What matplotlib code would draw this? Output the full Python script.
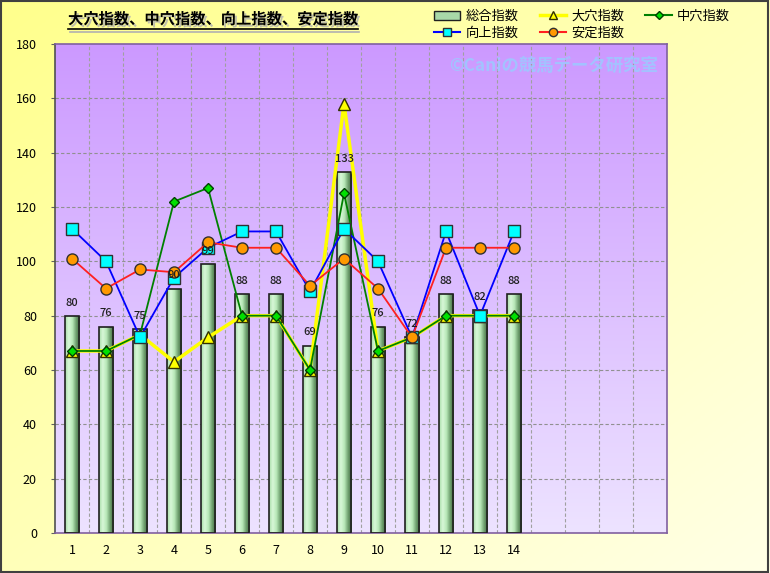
import numpy as np
import matplotlib
matplotlib.use("Agg")
import matplotlib.pyplot as plt
from matplotlib.colors import LinearSegmentedColormap
from matplotlib.lines import Line2D
from matplotlib.patches import Patch
import matplotlib.patheffects as pe

plt.rcParams['font.family'] = ['Noto Sans CJK JP', 'DejaVu Sans']

# ----- data -----
races = list(range(1, 15))
n_slots = 18  # chart has 18 category slots, only 14 filled
sogo = [80, 76, 75, 90, 99, 88, 88, 69, 133, 76, 72, 88, 82, 88]
oana = [67, 67, 73, 63, 72, 80, 80, 60, 158, 67, 72, 80, 80, 80]
chuana = [67, 67, 73, 122, 127, 80, 80, 60, 125, 67, 72, 80, 80, 80]
kojo = [112, 100, 72, 94, 105, 111, 111, 89, 112, 100, 72, 111, 80, 111]
antei = [101, 90, 97, 96, 107, 105, 105, 91, 101, 90, 72, 105, 105, 105]
names = ["総合指数", "大穴指数", "中穴指数", "向上指数", "安定指数"]
title = "大穴指数、中穴指数、向上指数、安定指数"
watermark = "©Caniの競馬データ研究室"

fig = plt.figure(figsize=(7.7, 5.73), dpi=100)

# figure background gradient (yellow -> pale)
bg = fig.add_axes([0, 0, 1, 1], zorder=-10)
yy, xx = np.mgrid[0:1:200j, 0:1:200j]
grad = (xx + (1 - yy)) / 2
bg_cmap = LinearSegmentedColormap.from_list("bgy", ["#FFFF8C", "#FFFFE6"])
bg.imshow(grad, cmap=bg_cmap, extent=[0, 1, 0, 1], aspect="auto", origin="lower")
bg.set_xlim(0, 1)
bg.set_ylim(0, 1)
bg.axis("off")
bg.add_patch(plt.Rectangle((0.001, 0.002), 0.997, 0.996, fill=False,
                           edgecolor="#404040", linewidth=1.5, transform=bg.transAxes))

ax = fig.add_axes([55 / 770, 40 / 573, 612 / 770, 489 / 573])
ax.set_facecolor("none")

# plot area gradient (purple top -> pale lavender bottom)
pa_cmap = LinearSegmentedColormap.from_list("pa", ["#EDE3FF", "#CC99FF"])
ax.imshow(np.linspace(0, 1, 256).reshape(-1, 1), cmap=pa_cmap, extent=[0, 1, 0, 1],
          transform=ax.transAxes, aspect="auto", origin="lower", zorder=0)

x = np.arange(len(races))
ax.set_xlim(-0.5, n_slots - 0.5)
ax.set_ylim(0, 180)

# grid
for yv in range(20, 180, 20):
    ax.axhline(yv, color="#909090", linestyle=(0, (3, 2)), linewidth=0.8, zorder=1)
for xv in np.arange(0.5, n_slots - 0.5, 1):
    ax.axvline(xv, color="#A0A0A0", linestyle=(0, (3, 2)), linewidth=0.8, zorder=1)

# bars with horizontal green gradient
bar_cmap = LinearSegmentedColormap.from_list(
    "barg", ["#A8DCA8", "#D8F8D8", "#B8E8B8", "#70A070", "#406840"])
bars = ax.bar(x, sogo, width=0.42, facecolor="none", edgecolor="#202020",
              linewidth=1.2, zorder=3)
for b in bars:
    bx, bw, bh = b.get_x(), b.get_width(), b.get_height()
    im = ax.imshow(np.linspace(0, 1, 64).reshape(1, -1), cmap=bar_cmap,
                   extent=[bx, bx + bw, 0, bh], aspect="auto", zorder=2)
    im.set_clip_path(b)
    ax.text(bx + bw / 2, bh + 3, str(int(bh)), ha="center", va="bottom",
            fontsize=8, fontweight="medium", color="#202020", zorder=6)
ax.set_xlim(-0.5, n_slots - 0.5)
ax.set_ylim(0, 180)

# lines
ax.plot(x, oana, color="#FFFF00", linewidth=2.5, marker="^", markersize=8,
        markerfacecolor="#FFFF00", markeredgecolor="#303000", zorder=4)
ax.plot(x, chuana, color="#008000", linewidth=1.3, marker="D", markersize=5,
        markerfacecolor="#00E000", markeredgecolor="#004000", zorder=4)
ax.plot(x, kojo, color="#0000FF", linewidth=1.3, marker="s", markersize=8,
        markerfacecolor="#00FFFF", markeredgecolor="#303030", zorder=5)
ax.plot(x, antei, color="#FF2020", linewidth=1.3, marker="o", markersize=8,
        markerfacecolor="#FF9900", markeredgecolor="#303030", zorder=5)

# axes styling
ax.set_yticks(range(0, 181, 20))
ax.set_xticks(range(n_slots))
ax.set_xticklabels([str(r) for r in races] + [""] * (n_slots - len(races)))
ax.tick_params(axis="y", labelsize=9, length=3, color="#606060", pad=10)
ax.tick_params(axis="x", labelsize=9, length=0, pad=8)
for s in ax.spines.values():
    s.set_color("#8060A0")
    s.set_linewidth(1.2)
ax.spines["left"].set_color("#505050")

# watermark
ax.text(0.985, 0.955, watermark, transform=ax.transAxes, ha="right", va="center",
        fontsize=12.5, fontweight="bold", color="#99CCFF", alpha=0.8, zorder=7)

# title with shadow and underline
t = fig.text(68 / 770, 1 - 19 / 573, title, ha="left", va="center", fontsize=11,
             fontweight="bold", color="#000000",
             path_effects=[pe.withSimplePatchShadow(offset=(1.5, -1.5),
                                                    shadow_rgbFace="#B0B0B0", alpha=0.8)])
fig.canvas.draw()
bb = t.get_window_extent().transformed(fig.transFigure.inverted())
fig.add_artist(Line2D([bb.x0, bb.x1], [bb.y0 - 0.004, bb.y0 - 0.004],
                      transform=fig.transFigure, color="black", linewidth=1.2))
fig.add_artist(Line2D([bb.x0 + 0.002, bb.x1 + 0.002], [bb.y0 - 0.008, bb.y0 - 0.008],
                      transform=fig.transFigure, color="#B0B0B0", linewidth=1.2))

# legend
handles = [
    Patch(facecolor="#A8D8A8", edgecolor="#202020", label=names[0]),
    Line2D([], [], color="#0000FF", marker="s", markerfacecolor="#00FFFF",
           markeredgecolor="#303030", markersize=6, label=names[3]),
    Line2D([], [], color="#FFFF00", linewidth=2.5, marker="^", markerfacecolor="#FFFF00",
           markeredgecolor="#303000", markersize=6, label=names[1]),
    Line2D([], [], color="#FF2020", marker="o", markerfacecolor="#FF9900",
           markeredgecolor="#303030", markersize=6, label=names[4]),
    Line2D([], [], color="#008000", marker="D", markerfacecolor="#00E000",
           markeredgecolor="#004000", markersize=4, label=names[2]),
]
fig.legend(handles=handles, ncol=3, loc="center", bbox_to_anchor=(582 / 770, 1 - 25 / 573),
           frameon=False, fontsize=9.5, handlelength=2.0, columnspacing=1.6,
           labelspacing=0.3, handletextpad=0.4)

fig.savefig("out.png", dpi=100)
